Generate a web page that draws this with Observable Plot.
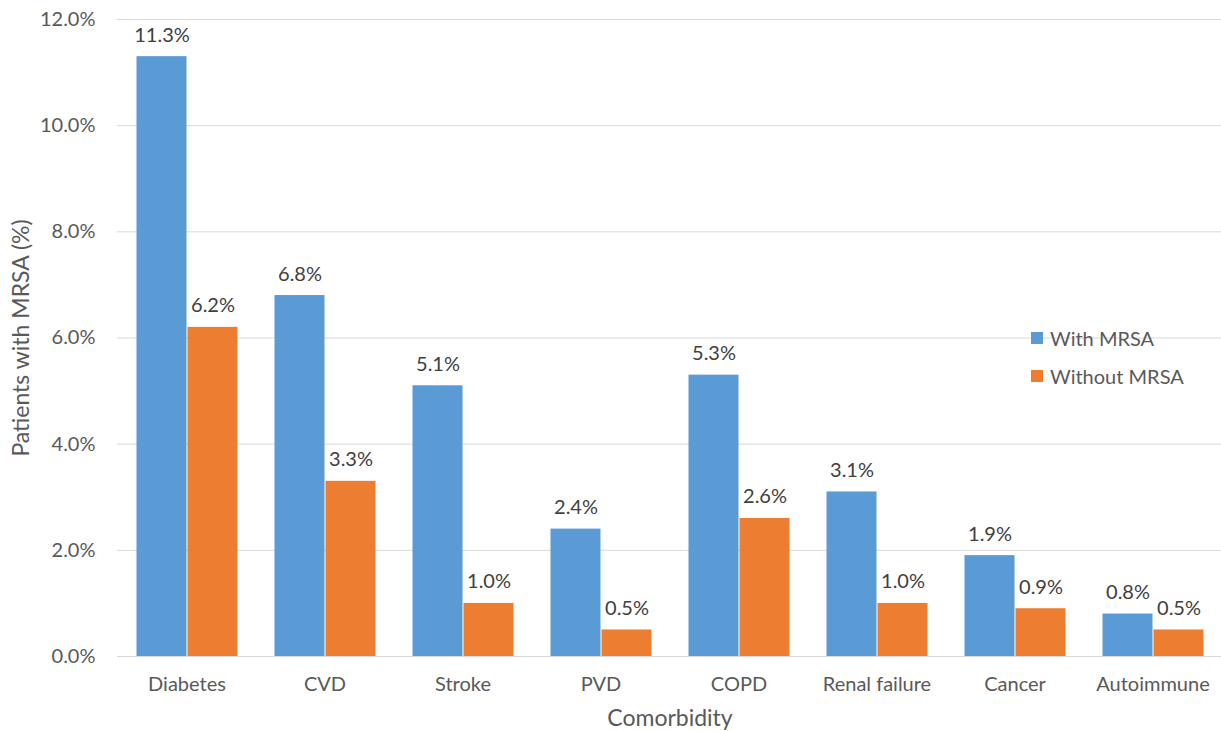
<!DOCTYPE html>
<html>
<head>
<meta charset="utf-8">
<script src="https://cdn.jsdelivr.net/npm/d3@7"></script>
<script src="https://cdn.jsdelivr.net/npm/@observablehq/plot@0.6"></script>
<style>
  html, body { margin: 0; padding: 0; background: #fff; }
  #wrap { position: relative; width: 1221px; height: 731px; font-family: Lato, sans-serif; }
  #wrap svg { position: absolute; left: 0; top: 0; }
  #legend { position: absolute; left: 1031px; top: 327px; font-size: 20px; color: #595959; }
  #legend div { display: flex; align-items: center; height: 22px; margin-bottom: 16px; }
  #legend span.sw { display: inline-block; width: 12px; height: 12px; margin-right: 7px; }
</style>
</head>
<body>
<div id="wrap"><div id="legend"></div></div>
<script>
const categories = ["Diabetes", "CVD", "Stroke", "PVD", "COPD", "Renal failure", "Cancer", "Autoimmune"];
const seriesNames = ["With MRSA", "Without MRSA"];
const withMRSA = [11.3, 6.8, 5.1, 2.4, 5.3, 3.1, 1.9, 0.8];
const withoutMRSA = [6.2, 3.3, 1.0, 0.5, 2.6, 1.0, 0.9, 0.5];
const colors = ["#5b9bd5", "#ed7d31"];
const yTicks = [0, 2, 4, 6, 8, 10, 12];

const data = [];
categories.forEach((c, i) => {
  data.push({category: c, series: seriesNames[0], value: withMRSA[i]});
  data.push({category: c, series: seriesNames[1], value: withoutMRSA[i]});
});

const fmt = d => d.toFixed(1) + "%";
const common = {
  width: 1221,
  height: 731,
  marginLeft: 117,
  marginRight: 0,
  marginTop: 19,
  marginBottom: 75,
  y: {domain: [0, 12]}
};
const fontStyle = {fontFamily: "Lato, sans-serif", fontSize: "20px", color: "#595959"};

// background: grid + y axis
const back = Plot.plot({
  ...common,
  style: {...fontStyle, background: "#fff"},
  x: {axis: null},
  marks: [
    Plot.ruleY(yTicks, {y: d => d, stroke: "#d9d9d9", strokeWidth: 1}),
    Plot.axisY({ticks: yTicks, tickFormat: fmt, tickSize: 0, tickPadding: 22, fontSize: 20, label: null}),
    Plot.axisY({ticks: [], tickSize: 0, fontSize: 23,
      label: "Patients with MRSA (%)", labelAnchor: "center", labelArrow: "none", labelOffset: 105})
  ]
});

// foreground: grouped bars
const front = Plot.plot({
  ...common,
  style: {...fontStyle, background: "transparent"},
  fx: {domain: categories, paddingInner: 0.254, paddingOuter: 0.127},
  x: {domain: seriesNames, padding: 0, axis: null},
  color: {domain: seriesNames, range: colors},
  marks: [
    Plot.axisY({ticks: [], label: null, tickSize: 0}),
    Plot.axisFx({anchor: "bottom", tickSize: 0, tickPadding: 20, fontSize: 20, label: null}),
    Plot.axisFx({anchor: "bottom", ticks: [], tickSize: 0, fontSize: 23,
      label: "Comorbidity", labelAnchor: "center", labelArrow: "none", labelOffset: 69}),
    Plot.barY(data, {fx: "category", x: "series", y: "value", fill: "series", insetLeft: 0.5, insetRight: 0.5}),
    Plot.text(data, {fx: "category", x: "series", y: "value", text: d => fmt(d.value),
      lineAnchor: "bottom", dy: -15, fontSize: 20, fill: "#404040"})
  ]
});

const wrap = document.getElementById("wrap");
wrap.insertBefore(front, wrap.firstChild);
wrap.insertBefore(back, wrap.firstChild);

const legend = document.getElementById("legend");
seriesNames.forEach((s, i) => {
  const row = document.createElement("div");
  const sw = document.createElement("span");
  sw.className = "sw";
  sw.style.background = colors[i];
  row.appendChild(sw);
  row.appendChild(document.createTextNode(s));
  legend.appendChild(row);
});
</script>
</body>
</html>
